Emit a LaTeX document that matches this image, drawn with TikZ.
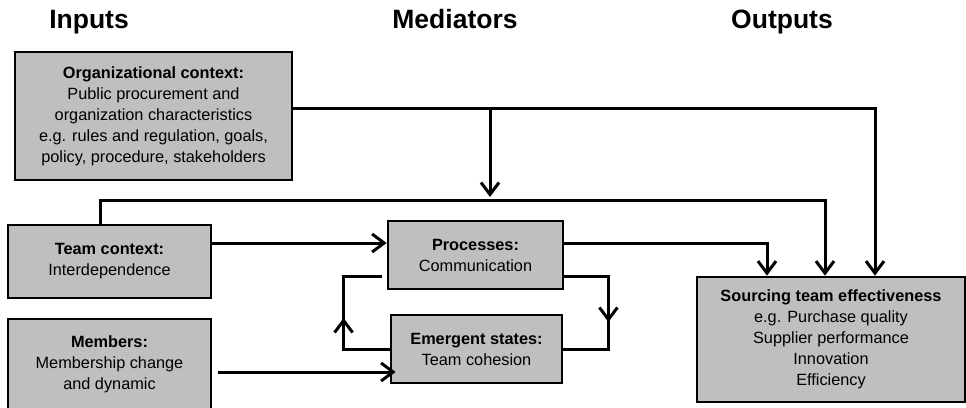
\documentclass[tikz,border=0pt]{standalone}
\usepackage{fontspec}
\setmainfont{Liberation Sans}
\usetikzlibrary{arrows.meta,decorations.markings}

\begin{document}
\begin{tikzpicture}[x=1pt, y=-1pt,
  block/.style={draw, line width=2.8pt, fill=black!25, align=center, inner sep=0pt,
    font=\fontsize{16.3}{21}\selectfont},
  head/.style={anchor=base, font=\fontsize{26.5}{30}\selectfont\bfseries},
  link/.style={line width=3pt},
  arr/.style={link, -{Straight Barb[length=12pt, width=18pt]}},
  midarr/.style={link, postaction={decorate}, decoration={markings,
    mark=at position #1 with {\arrow{Straight Barb[length=12pt, width=18pt]}}}}]

  \useasboundingbox (0,0) rectangle (966,407);

  % Headings
  \node[head] (Hin) at (89,28) {Inputs};
  \node[head] (Hmed) at (455,28) {Mediators};
  \node[head] (Hout) at (782,28) {Outputs};

  % Inputs
  \node[block, minimum width=277pt, minimum height=128pt] (org) at (153.5,116)
    {\textbf{Organizational context:}\\Public procurement and\\organization characteristics\\e.g. rules and regulation, goals,\\policy, procedure, stakeholders};
  \node[block, minimum width=203pt, minimum height=73pt] (team) at (109.5,261.5)
    {\textbf{Team context:}\\Interdependence};
  \node[block, minimum width=203pt, minimum height=90pt] (mem) at (109.5,364)
    {\textbf{Members:}\\Membership change\\and dynamic};

  % Mediators
  \node[block, minimum width=175pt, minimum height=68pt] (proc) at (475.5,255)
    {\textbf{Processes:}\\Communication};
  \node[block, minimum width=171pt, minimum height=68pt] (emer) at (476.5,349)
    {\textbf{Emergent states:}\\Team cohesion};

  % Outputs
  \node[block, minimum width=268pt, minimum height=125pt] (out) at (831,339.5)
    {\textbf{Sourcing team effectiveness}\\e.g. Purchase quality\\Supplier performance\\Innovation\\Efficiency};

  \coordinate (orgdrop) at (490,197);

  % Organizational context lines
  \draw[arr] ([yshift=8pt]org.east) -| ([xshift=44pt]out.north);
  \draw[arr] ([yshift=8pt]org.east -| orgdrop) -- (orgdrop);

  % Team context lines
  \draw[arr] ([xshift=-9.5pt]team.north) -- ++(0,-23) -| ([xshift=-6pt]out.north);
  \draw[arr] ([yshift=18.5pt]team.east) -- ([yshift=18.5pt]team.east -| proc.west);

  % Members to emergent states
  \draw[arr] ([shift={(6pt,-8pt)}]mem.east) -- ([shift={(6pt,-8pt)}]mem.east -| emer.west);

  % Processes to outputs
  \draw[arr] ([yshift=12pt]proc.east) -| ([xshift=-64pt]out.north);

  % Loop between processes and emergent states
  \draw[midarr=77pt] (emer.west) -- ++(-46,0) |- ([shift={(-5pt,-21pt)}]proc.west);
  \draw[midarr=90pt] ([yshift=-21pt]proc.east) -- ++(44,0) |- (emer.east);

\end{tikzpicture}
\end{document}
